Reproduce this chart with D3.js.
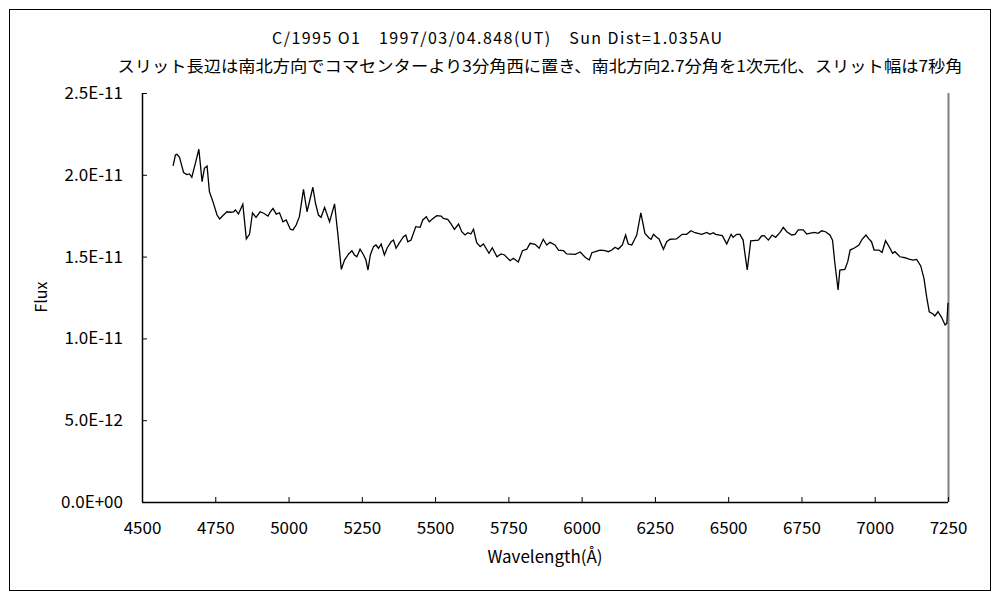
<!DOCTYPE html>
<html>
<head>
<meta charset="utf-8">
<script src="https://cdn.jsdelivr.net/npm/d3@7"></script>
<style>
  body { margin: 0; background: #fff; }
  svg text { font-family: "Noto Sans CJK JP", "Noto Sans", sans-serif; fill: #000; }
</style>
</head>
<body>
<div id="chart"></div>
<script>
// chart texts
var titleLine1 = "C/1995 O1　1997/03/04.848(UT)　Sun Dist=1.035AU";
var titleLine2 = "スリット長辺は南北方向でコマセンターより3分角西に置き、南北方向2.7分角を1次元化、スリット幅は7秒角";
var xLabel = "Wavelength(Å)";
var yLabel = "Flux";

// tick values
var xTicks = [4500, 4750, 5000, 5250, 5500, 5750, 6000, 6250, 6500, 6750, 7000, 7250];
var yTicks = [0, 0.5e-11, 1.0e-11, 1.5e-11, 2.0e-11, 2.5e-11];

// spectrum (wavelength in Angstrom, flux in units of 1E-11)
var wavelength = [
  4606, 4614, 4619, 4628, 4642, 4653, 4662, 4670, 4682, 4694,
  4705, 4713, 4722, 4730, 4742, 4756, 4765, 4778, 4790, 4803,
  4812, 4819, 4829, 4844, 4856, 4867, 4877, 4889, 4903, 4915,
  4930, 4938, 4947, 4958, 4969, 4981, 4992, 5006, 5015, 5026,
  5037, 5051, 5063, 5083, 5092, 5102, 5111, 5123, 5140, 5157,
  5168, 5180, 5191, 5205, 5216, 5225, 5233, 5244, 5256, 5264,
  5271, 5279, 5290, 5298, 5307, 5316, 5327, 5336, 5350, 5358,
  5367, 5377, 5392, 5400, 5407, 5418, 5426, 5434, 5449, 5458,
  5470, 5480, 5494, 5506, 5521, 5528, 5543, 5555, 5566, 5580,
  5591, 5602, 5612, 5622, 5631, 5642, 5654, 5665, 5684, 5695,
  5711, 5725, 5737, 5756, 5767, 5784, 5798, 5813, 5824, 5841,
  5855, 5869, 5881, 5892, 5909, 5921, 5938, 5949, 5978, 5995,
  6012, 6026, 6035, 6052, 6063, 6080, 6091, 6103, 6114, 6125,
  6139, 6150, 6159, 6171, 6188, 6202, 6216, 6231, 6237, 6245,
  6256, 6264, 6279, 6290, 6302, 6324, 6336, 6343, 6358, 6373,
  6387, 6410, 6427, 6438, 6449, 6457, 6480, 6495, 6510, 6517,
  6529, 6540, 6551, 6557, 6565, 6577, 6603, 6614, 6623, 6637,
  6650, 6662, 6677, 6688, 6700, 6717, 6728, 6739, 6756, 6768,
  6777, 6794, 6807, 6819, 6832, 6847, 6856, 6864, 6875, 6881,
  6898, 6908, 6916, 6932, 6946, 6957, 6970, 6980, 6989, 6998,
  7014, 7025, 7037, 7052, 7061, 7069, 7086, 7103, 7117, 7131,
  7143, 7157, 7168, 7177, 7186, 7199, 7205, 7216, 7228, 7240,
  7246, 7250
];
var fluxE11 = [
  2.054, 2.121, 2.125, 2.107, 2.013, 2.001, 2.005, 1.985, 2.070, 2.156,
  1.958, 2.040, 2.054, 1.897, 1.836, 1.754, 1.730, 1.754, 1.774, 1.771,
  1.774, 1.785, 1.760, 1.820, 1.608, 1.638, 1.768, 1.740, 1.774, 1.765,
  1.748, 1.774, 1.795, 1.760, 1.768, 1.713, 1.724, 1.667, 1.663, 1.693,
  1.744, 1.911, 1.774, 1.924, 1.826, 1.754, 1.740, 1.801, 1.713, 1.822,
  1.642, 1.422, 1.479, 1.516, 1.536, 1.510, 1.499, 1.545, 1.510, 1.479,
  1.418, 1.510, 1.561, 1.571, 1.551, 1.577, 1.510, 1.551, 1.591, 1.601,
  1.551, 1.581, 1.622, 1.632, 1.591, 1.601, 1.642, 1.683, 1.679, 1.724,
  1.744, 1.713, 1.734, 1.750, 1.748, 1.734, 1.728, 1.699, 1.667, 1.699,
  1.652, 1.632, 1.646, 1.638, 1.667, 1.585, 1.561, 1.577, 1.520, 1.554,
  1.499, 1.516, 1.510, 1.475, 1.490, 1.467, 1.536, 1.545, 1.581, 1.575,
  1.551, 1.606, 1.571, 1.587, 1.571, 1.540, 1.536, 1.516, 1.514, 1.528,
  1.496, 1.479, 1.524, 1.534, 1.540, 1.536, 1.530, 1.540, 1.557, 1.546,
  1.571, 1.632, 1.577, 1.571, 1.632, 1.768, 1.642, 1.612, 1.606, 1.636,
  1.618, 1.608, 1.545, 1.591, 1.606, 1.608, 1.626, 1.636, 1.636, 1.658,
  1.646, 1.636, 1.648, 1.636, 1.646, 1.636, 1.628, 1.577, 1.636, 1.618,
  1.636, 1.636, 1.601, 1.520, 1.418, 1.597, 1.601, 1.626, 1.628, 1.601,
  1.632, 1.618, 1.648, 1.679, 1.652, 1.632, 1.636, 1.663, 1.663, 1.638,
  1.642, 1.648, 1.642, 1.658, 1.652, 1.632, 1.601, 1.459, 1.296, 1.418,
  1.422, 1.469, 1.540, 1.554, 1.571, 1.606, 1.632, 1.608, 1.591, 1.540,
  1.540, 1.526, 1.597, 1.551, 1.520, 1.530, 1.499, 1.493, 1.485, 1.479,
  1.483, 1.443, 1.367, 1.255, 1.163, 1.149, 1.137, 1.163, 1.129, 1.082,
  1.092, 1.218
];

var data = wavelength.map(function(w, i) { return {w: w, f: fluxE11[i] * 1e-11}; });

var W = 1000, H = 600;
var margin = {top: 93, right: 52, bottom: 98, left: 142};
var width = W - margin.left - margin.right;
var height = H - margin.top - margin.bottom;

var svg = d3.select("#chart")
    .append("svg")
    .attr("width", W)
    .attr("height", H);

// outer chart frame
svg.append("rect")
    .attr("x", 9.5).attr("y", 9.5)
    .attr("width", 981).attr("height", 581)
    .attr("fill", "none")
    .attr("stroke", "#000")
    .attr("stroke-width", 1);

// titles
svg.append("text")
    .attr("x", 497).attr("y", 44)
    .attr("text-anchor", "middle")
    .style("font-size", "16px")
    .attr("textLength", 450)
    .attr("lengthAdjust", "spacing")
    .text(titleLine1);

svg.append("text")
    .attr("x", 540).attr("y", 72)
    .attr("text-anchor", "middle")
    .style("font-size", "16px")
    .attr("textLength", 845)
    .attr("lengthAdjust", "spacingAndGlyphs")
    .text(titleLine2);

var g = svg.append("g")
    .attr("transform", "translate(" + margin.left + "," + margin.top + ")");

var x = d3.scaleLinear().domain([4500, 7250]).range([0, width]);
var y = d3.scaleLinear().domain([0, 2.5e-11]).range([height, 0]);

function sciFormat(d) {
    if (d === 0) return "0.0E+00";
    var e = Math.floor(Math.log10(d) + 1e-9);
    var m = d / Math.pow(10, e);
    var ex = Math.abs(e);
    return m.toFixed(1) + "E" + (e < 0 ? "-" : "+") + (ex < 10 ? "0" + ex : ex);
}

// plot area right edge (grey)
g.append("line")
    .attr("x1", width + 0.5).attr("x2", width + 0.5)
    .attr("y1", 0).attr("y2", height)
    .attr("stroke", "#808080")
    .attr("stroke-width", 2);

// y axis
var yAxis = g.append("g")
    .call(d3.axisLeft(y).tickValues(yTicks).tickSize(-5).tickPadding(19).tickFormat(sciFormat));
yAxis.select(".domain").attr("stroke", "#000").attr("stroke-width", 1.5).attr("d", "M0.5," + height + "V0");
yAxis.selectAll("text").style("font-size", "17px");
yAxis.selectAll(".tick line").attr("stroke", "#000");

// x axis
var xAxis = g.append("g")
    .attr("transform", "translate(0," + height + ")")
    .call(d3.axisBottom(x).tickValues(xTicks).tickSize(-5).tickPadding(20).tickFormat(d3.format("d")));
xAxis.select(".domain").attr("stroke", "#000").attr("stroke-width", 1.5).attr("d", "M0,0.5H" + width);
xAxis.selectAll("text").style("font-size", "17px");
xAxis.selectAll(".tick line").attr("stroke", "#000");

// spectrum line
var line = d3.line()
    .x(function(d) { return x(d.w); })
    .y(function(d) { return y(d.f); });

g.append("path")
    .datum(data)
    .attr("fill", "none")
    .attr("stroke", "#000")
    .attr("stroke-width", 1.3)
    .attr("d", line);

// axis labels
svg.append("text")
    .attr("x", 545).attr("y", 563)
    .attr("text-anchor", "middle")
    .style("font-size", "17px")
    .text(xLabel);

svg.append("text")
    .attr("transform", "translate(47,297) rotate(-90)")
    .attr("text-anchor", "middle")
    .style("font-size", "16px")
    .text(yLabel);
</script>
</body>
</html>
